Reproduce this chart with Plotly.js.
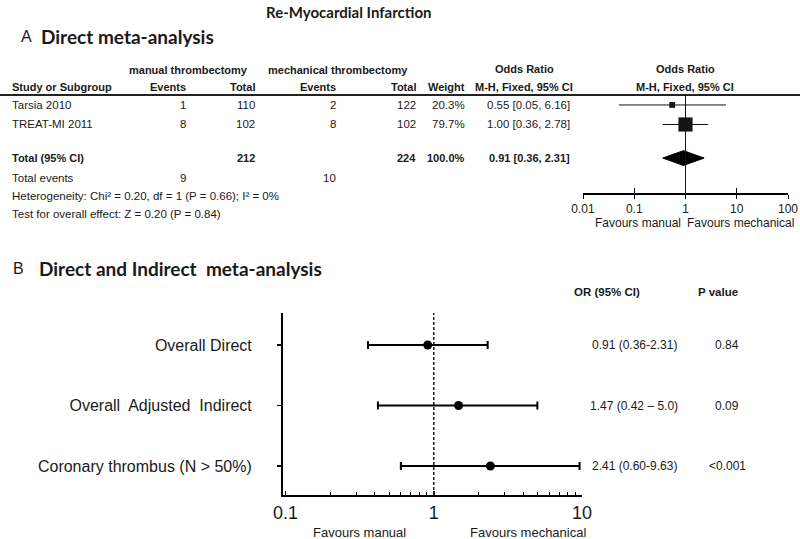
<!DOCTYPE html>
<html><head><meta charset="utf-8">
<script src="https://cdn.plot.ly/plotly-3.0.1.min.js"></script>
<style>html,body{margin:0;padding:0;background:#fff}#c{width:800px;height:539px}</style>
</head><body><div id="c"></div>
<script>
// ---------- Panel A data ----------
const studies = ['Tarsia 2010', 'TREAT-MI 2011'];
const manualEvents = [1, 8];
const manualTotal = [110, 102];
const mechEvents = [2, 8];
const mechTotal = [122, 102];
const weights = [20.3, 79.7];
const orEst = [0.55, 1.00];
const orLo = [0.05, 0.36];
const orHi = [6.16, 2.78];
const pooledOR = [0.91];
const pooledLo = [0.36];
const pooledHi = [2.31];
const totalManual = [212];
const totalMech = [224];
const totalEventsManual = [9];
const totalEventsMech = [10];
const heterogeneityText = ['Heterogeneity: Chi\u00b2 = 0.20, df = 1 (P = 0.66); I\u00b2 = 0%'];
const overallEffectText = ['Test for overall effect: Z = 0.20 (P = 0.84)'];
const aTickVals = [0.01, 0.1, 1, 10, 100];
const aTickText = ['0.01', '0.1', '1', '10', '100'];

// ---------- Panel B data ----------
const bLabels = ['Overall Direct', 'Overall  Adjusted  Indirect', 'Coronary thrombus (N > 50%)'];
const bEst = [0.91, 1.47, 2.41];
const bLo = [0.36, 0.42, 0.60];
const bHi = [2.31, 5.0, 9.63];
const bCIText = ['0.91 (0.36-2.31)', '1.47 (0.42 \u2013 5.0)', '2.41 (0.60-9.63)'];
const bPText = ['0.84', '0.09', '<0.001'];
const bTickVals = [0.1, 1, 10];
const bTickText = ['0.1', '1', '10'];
const bMinorTicks = [0.2, 0.3, 0.4, 0.5, 0.6, 0.7, 0.8, 0.9, 2, 3, 4, 5, 6, 7, 8, 9];

// ---------- helpers ----------
const W = 800, H = 539;
const px = x => x / W;
const py = y => 1 - y / H;
const NARROW = 'Liberation Sans Narrow, Arial Narrow, Liberation Sans, sans-serif';
const ARIAL = 'Liberation Sans, Arial, sans-serif';
const CAL = 'Lato, Carlito, Calibri, sans-serif';
const INK = '#1a1a1a';
const FS = 11.5;   // table regular
const FB = 11;     // table bold
const annotations = [];
function txt(text, x, y, opts) {
  opts = opts || {};
  annotations.push({
    text: text, x: opts.xref ? x : px(x), y: opts.yref ? y : py(y),
    xref: opts.xref || 'paper', yref: opts.yref || 'paper',
    xanchor: opts.xa || 'left', yanchor: 'middle', showarrow: false,
    font: {family: opts.family || NARROW, size: opts.size || FS, color: opts.color || INK}
  });
}

// ---------- Titles ----------
txt('<b>Re-Myocardial Infarction</b>', 349, 12, {xa: 'center', family: CAL, size: 15});
txt('A', 19, 37, {family: ARIAL, size: 16});
txt('<b>Direct meta-analysis</b>', 39, 37, {family: CAL, size: 19});
txt('B', 11, 268, {family: ARIAL, size: 16});
txt('<b>Direct and Indirect  meta-analysis</b>', 37, 268, {family: CAL, size: 19});

// ---------- Panel A table ----------
const colName = 10, colMEv = 188, colMTot = 257, colXEv = 338, colXTot = 418, colW = 467, colOR = 572;
txt('<b>manual thrombectomy</b>', 188, 70, {xa: 'center', size: FB});
txt('<b>mechanical thrombectomy</b>', 338, 70, {xa: 'center', size: FB});
txt('<b>Study or Subgroup</b>', colName, 87, {size: FB});
txt('<b>Events</b>', colMEv, 87, {xa: 'right', size: FB});
txt('<b>Total</b>', colMTot, 87, {xa: 'right', size: FB});
txt('<b>Events</b>', colXEv, 87, {xa: 'right', size: FB});
txt('<b>Total</b>', colXTot, 87, {xa: 'right', size: FB});
txt('<b>Weight</b>', colW, 87, {xa: 'right', size: FB});
txt('<b>Odds Ratio</b>', 524, 69, {xa: 'center', size: FB});
txt('<b>M-H, Fixed, 95% CI</b>', 524, 87, {xa: 'center', size: FB});
txt('<b>Odds Ratio</b>', 685, 69, {xa: 'center', size: FB});
txt('<b>M-H, Fixed, 95% CI</b>', 685, 87, {xa: 'center', size: FB});

const ROW_TOTAL = 2.72;
const fmtCI = (e, l, h) => e.toFixed(2) + ' [' + l.toFixed(2) + ', ' + h.toFixed(2) + ']';
studies.forEach((s, i) => {
  const o = {yref: 'y2'};
  txt(s, colName, i, o);
  txt(String(manualEvents[i]), colMEv, i, Object.assign({xa: 'right'}, o));
  txt(String(manualTotal[i]), colMTot, i, Object.assign({xa: 'right'}, o));
  txt(String(mechEvents[i]), colXEv, i, Object.assign({xa: 'right'}, o));
  txt(String(mechTotal[i]), colXTot, i, Object.assign({xa: 'right'}, o));
  txt(weights[i].toFixed(1) + '%', colW, i, Object.assign({xa: 'right'}, o));
  txt(fmtCI(orEst[i], orLo[i], orHi[i]), colOR, i, Object.assign({xa: 'right'}, o));
});
{
  const o = {yref: 'y2', size: FB};
  txt('<b>Total (95% CI)</b>', colName, ROW_TOTAL, o);
  txt('<b>' + totalManual[0] + '</b>', colMTot, ROW_TOTAL, Object.assign({xa: 'right'}, o));
  txt('<b>' + totalMech[0] + '</b>', colXTot, ROW_TOTAL, Object.assign({xa: 'right'}, o));
  const wsum = weights.reduce((a, b) => a + b, 0);
  txt('<b>' + wsum.toFixed(1) + '%</b>', colW, ROW_TOTAL, Object.assign({xa: 'right'}, o));
  txt('<b>' + fmtCI(pooledOR[0], pooledLo[0], pooledHi[0]) + '</b>', colOR, ROW_TOTAL, Object.assign({xa: 'right'}, o));
}
txt('Total events', colName, 178);
txt(String(totalEventsManual[0]), colMEv, 178, {xa: 'right'});
txt(String(totalEventsMech[0]), colXEv, 178, {xa: 'right'});
txt(heterogeneityText[0], colName, 196);
txt(overallEffectText[0], colName, 214);
txt('Favours manual', 638, 223, {xa: 'center', size: 12});
txt('Favours mechanical', 740, 223, {xa: 'center', size: 12});

// ---------- Panel B text ----------
txt('<b>OR (95% CI)</b>', 607, 292, {xa: 'center', size: 11.5});
txt('<b>P value</b>', 718, 292, {xa: 'center', size: 11.5});
bCIText.forEach((t, i) => txt(t, 634, i, {xa: 'center', yref: 'y', size: 12}));
bPText.forEach((t, i) => txt(t, 727, i, {xa: 'center', yref: 'y', size: 12}));
txt('Favours manual', 359, 532, {xa: 'center', size: 13});
txt('Favours mechanical', 528, 532, {xa: 'center', size: 13});

// ---------- traces ----------
const traces = [];
// Panel A studies
traces.push({
  type: 'scatter', mode: 'markers', xaxis: 'x2', yaxis: 'y2',
  x: orEst, y: studies.map((s, i) => i),
  marker: {symbol: 'square', color: '#151515', opacity: 1, line: {width: 0},
    size: weights.map(w => 3 + w * 0.14)},
  error_x: {type: 'data', symmetric: false,
    array: orEst.map((e, i) => orHi[i] - e), arrayminus: orEst.map((e, i) => e - orLo[i]),
    width: 0, thickness: 1, color: '#111'},
  hoverinfo: 'skip', showlegend: false
});
// Pooled diamond
const dh = 0.38;
traces.push({
  type: 'scatter', mode: 'lines', xaxis: 'x2', yaxis: 'y2',
  x: [pooledLo[0], pooledOR[0], pooledHi[0], pooledOR[0], pooledLo[0]],
  y: [ROW_TOTAL, ROW_TOTAL - dh, ROW_TOTAL, ROW_TOTAL + dh, ROW_TOTAL],
  fill: 'toself', fillcolor: '#000', line: {color: '#000', width: 1},
  hoverinfo: 'skip', showlegend: false
});
// Panel B
traces.push({
  type: 'scatter', mode: 'markers', xaxis: 'x', yaxis: 'y',
  x: bEst, y: bLabels.map((s, i) => i),
  marker: {symbol: 'circle', color: '#000', size: 9},
  error_x: {type: 'data', symmetric: false,
    array: bEst.map((e, i) => bHi[i] - e), arrayminus: bEst.map((e, i) => e - bLo[i]),
    width: 4, thickness: 2, color: '#000'},
  hoverinfo: 'skip', showlegend: false
});
// invisible trace so overlay axis x3 is drawn
traces.push({type: 'scatter', mode: 'markers', xaxis: 'x3', yaxis: 'y2', x: [1], y: [10],
  marker: {opacity: 0}, hoverinfo: 'skip', showlegend: false});

const layout = {
  width: W, height: H, margin: {l: 0, r: 0, t: 0, b: 0},
  paper_bgcolor: '#fff', plot_bgcolor: 'rgba(0,0,0,0)', showlegend: false,
  xaxis: {domain: [px(283), px(582)], anchor: 'y', type: 'log', range: [-1.017, 1],
    tickvals: bTickVals, ticktext: bTickText, ticks: 'inside', ticklen: 4, tickwidth: 1.5,
    tickcolor: '#000', showline: true, linecolor: '#000', linewidth: 2,
    showgrid: false, zeroline: false, tickfont: {family: ARIAL, size: 18, color: INK},
    minor: {tickvals: bMinorTicks, ticks: 'inside', ticklen: 3, tickwidth: 1, tickcolor: '#000', showgrid: false}},
  yaxis: {domain: [py(495), py(313)], anchor: 'x', range: [2.48, -0.53],
    tickvals: bLabels.map((s, i) => i), ticktext: bLabels, ticks: 'outside', ticklen: 4,
    tickcolor: '#000', tickwidth: 1.5, showline: true, linecolor: '#000', linewidth: 2,
    showgrid: false, zeroline: false, ticklabelstandoff: 22,
    tickfont: {family: ARIAL, size: 16, color: INK}},
  xaxis2: {domain: [px(583), px(788)], anchor: 'y2', type: 'log', range: [-2, 2],
    tickvals: aTickVals, ticktext: aTickText, ticks: 'outside', ticklen: 4, tickcolor: '#000',
    showline: true, linecolor: '#000', linewidth: 1.5, showgrid: false, zeroline: false,
    tickfont: {family: NARROW, size: 12, color: INK}},
  xaxis3: {domain: [px(583), px(788)], anchor: 'y2', overlaying: 'x2', type: 'log', range: [-2, 2],
    tickvals: aTickVals, ticks: 'inside', ticklen: 5, tickcolor: '#000', showticklabels: false,
    showline: false, showgrid: false, zeroline: false},
  yaxis2: {domain: [py(193), py(95)], anchor: 'x2', range: [4.51, -0.51], visible: false},
  shapes: [
    {type: 'line', xref: 'paper', yref: 'paper', x0: 0, x1: 1, y0: py(95), y1: py(95),
      line: {color: '#222', width: 2}},
    {type: 'line', xref: 'x2', yref: 'y2 domain', x0: 1, x1: 1, y0: 0, y1: 1,
      line: {color: '#111', width: 1}},
    {type: 'line', xref: 'x', yref: 'y domain', x0: 1, x1: 1, y0: 0, y1: 1,
      line: {color: '#222', width: 1.5, dash: '3px,2px'}}
  ],
  annotations: annotations
};

Plotly.newPlot('c', traces, layout, {staticPlot: true});
</script></body></html>
